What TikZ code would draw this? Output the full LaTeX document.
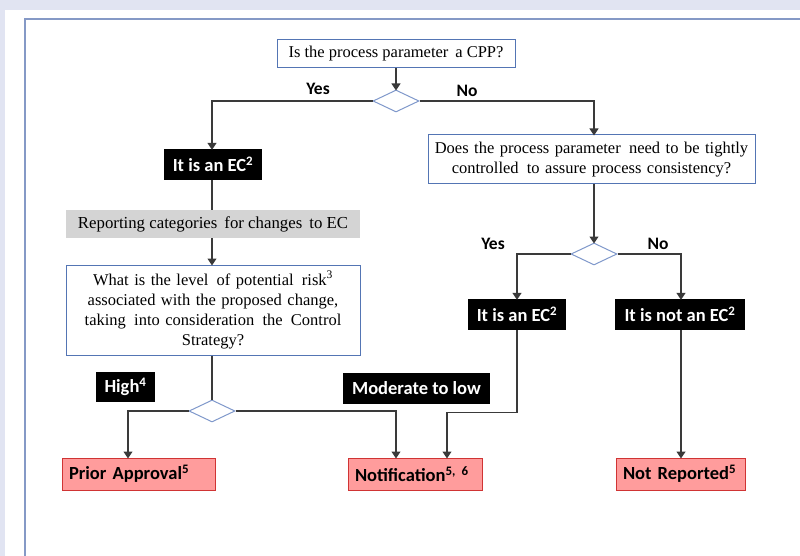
\documentclass[tikz,border=0pt]{standalone}
\usepackage{fontspec}
\setmainfont{Liberation Serif}
\newfontfamily\calfont{Carlito}
\usetikzlibrary{shapes.geometric,arrows.meta}
\definecolor{lav}{HTML}{E1E4F2}
\definecolor{framec}{HTML}{8599C6}
\definecolor{qblue}{HTML}{5475B4}
\definecolor{dblue}{HTML}{7F98CB}
\definecolor{greyfill}{HTML}{D4D4D4}
\definecolor{pinkfill}{HTML}{FF9C9C}
\definecolor{pinkline}{HTML}{D03434}
\definecolor{linec}{HTML}{3A3A3A}
\tikzset{
  qbox/.style={draw=qblue, line width=1pt, fill=white, inner sep=0pt, align=center,
    font=\fontsize{16.5}{20}\selectfont},
  dec/.style={diamond, draw=dblue, line width=1pt, fill=white, inner sep=0pt,
    minimum width=46pt, minimum height=22pt},
  blackbox/.style={fill=black, text=white, inner sep=0pt, minimum height=31pt,
    font=\calfont\bfseries\fontsize{18.5}{22}\selectfont},
  lbl/.style={font=\calfont\bfseries\fontsize{17.5}{20}\selectfont, inner sep=0pt},
  outbox/.style={draw=pinkline, line width=1pt, fill=pinkfill, inner xsep=7pt, inner ysep=0pt,
    minimum height=32pt, align=left,
    font=\calfont\bfseries\fontsize{18.5}{22}\selectfont},
  conn/.style={draw=linec, line width=1.2pt},
  arr/.style={conn, -{Triangle[width=9pt,length=7pt]}, shorten >=-1pt},
}
\begin{document}
\begin{tikzpicture}[x=1pt,y=-1pt]
\useasboundingbox (0,0) rectangle (800,556);
\fill[lav] (0,0) rectangle (800,556);
\fill[white] (5,10) rectangle (800,556);
\draw[framec, line width=2pt] (25,557) -- (25,19) -- (801,19);

% nodes
\node[qbox, minimum width=238pt, minimum height=28pt] (q1) at (396,54) {Is the process parameter\, a CPP?};
\node[dec] (d1) at (396,101) {};
\node[lbl] (yes1) at (318,89) {Yes};
\node[lbl] (no1) at (467,91) {No};

\node[blackbox, minimum width=98pt] (ec1) at (213,164.5) {It is an EC\textsuperscript{2}};
\node[fill=greyfill, minimum width=294pt, minimum height=28pt, inner sep=0pt,
  font=\fontsize{16.8}{20}\selectfont] (rep) at (213,224) {Reporting categories\, for changes\, to EC};
\node[qbox, minimum width=294pt, minimum height=90pt, text width=284pt] (q3) at (213,310)
  {What is the level\, of potential\, risk\textsuperscript{3}\\associated with the proposed change,\\taking\, into consideration\, the\, Control\\Strategy?};
\node[dec] (d2) at (212,411) {};
\node[blackbox, minimum width=59pt, minimum height=30pt] (high) at (125.5,387) {High\textsuperscript{4}};
\node[blackbox, minimum width=147pt] (mod) at (416.5,388.5) {Moderate to low};

\node[outbox, minimum width=153pt, text width=139pt] (pa) at (138.5,474) {Prior Approval\textsuperscript{5}};
\node[outbox, minimum width=134pt, text width=120pt] (nt) at (415,474) {Notification\textsuperscript{5, 6}};
\node[outbox, minimum width=129pt, text width=115pt] (nr) at (680.5,474) {Not Reported\textsuperscript{5}};

\node[qbox, minimum width=327pt, minimum height=49pt, text width=322pt] (q2) at (591.5,159.5)
  {Does the process parameter\, need to be tightly\\controlled\, to assure process consistency?};
\node[dec] (d3) at (594,254) {};
\node[lbl] (yes2) at (493,244) {Yes};
\node[lbl] (no2) at (658,244) {No};
\node[blackbox, minimum width=98pt] (ec2) at (517,314.5) {It is an EC\textsuperscript{2}};
\node[blackbox, minimum width=130pt] (nec) at (680,314.5) {It is not an EC\textsuperscript{2}};

% connectors
\draw[arr] (q1.south) -- (d1.north);
\draw[arr] (d1.west) -| ([xshift=-1pt]ec1.north);
\draw[arr] (d1.east) -| ([xshift=2.5pt]q2.north);
\draw[conn] ([xshift=-1pt]ec1.south) -- ([xshift=-1pt]rep.north);
\draw[arr] ([xshift=-1pt]rep.south) -- ([xshift=-1pt]q3.north);
\draw[conn] ([xshift=-1pt]q3.south) -- (d2.north);
\draw[arr] (d2.west) -| ([xshift=-10.5pt]pa.north);
\draw[arr] (d2.east) -| ([xshift=-19pt]nt.north);
\draw[arr] (ec2.south) -- ++(0,82) -| ([xshift=32pt]nt.north);
\draw[arr] ([xshift=2.5pt]q2.south) -- (d3.north);
\draw[arr] (d3.west) -| (ec2.north);
\draw[arr] (d3.east) -| ([xshift=1pt]nec.north);
\draw[arr] ([xshift=1pt]nec.south) -- ([xshift=1pt]nec.south |- nr.north);
\end{tikzpicture}
\end{document}
